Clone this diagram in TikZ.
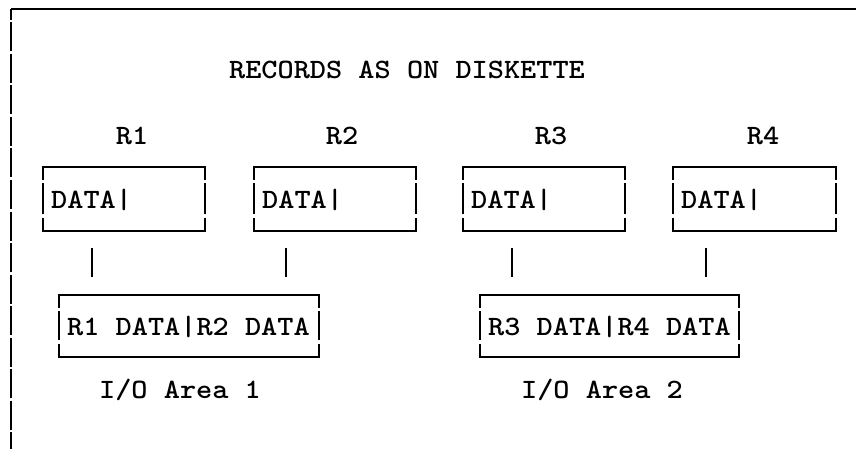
\documentclass[tikz,border=0pt]{standalone}
\usepackage{graphicx}
\usetikzlibrary{calc}

% typewriter text: Latin Modern Mono, widened to a 16.1pt pitch
\newcommand\tw[1]{\scalebox{1.1}[1]{\fontsize{28}{28}\selectfont\ttfamily\bfseries #1}}

\tikzset{
  ln/.style={line width=1.4pt, line cap=butt},
  frameln/.style={line width=1.6pt},
  area/.style={draw=none, inner sep=0pt, outer sep=0pt, minimum height=#1},
  lbl/.style={inner sep=0pt, anchor=base},
  txt/.style={inner sep=0pt, anchor=base west},
}

% box outline built from typewriter box pieces: corner ticks and broken sides
\newcommand\brokenbox[1]{%
  \draw[ln] ($(#1.north west)+(0,13)$) -- (#1.north west) -- (#1.north east) -- ($(#1.north east)+(0,13)$);
  \draw[ln] ($(#1.south west)+(0,-13)$) -- (#1.south west) -- (#1.south east) -- ($(#1.south east)+(0,-13)$);
  \draw[ln] ($(#1.north west)+(0,16)$) -- ($(#1.south west)+(0,-17)$);
  \draw[ln] ($(#1.north east)+(0,16)$) -- ($(#1.south east)+(0,-17)$);
}

\begin{document}
\begin{tikzpicture}[x=1pt, y=-1pt]
\useasboundingbox (0,0) rectangle (856,449);

% page frame
\draw[frameln] (11,9) -- (856,9);
\draw[frameln, dash pattern=on 29pt off 2.5pt, dash phase=18pt] (11,9) -- (11,449);

% title and record labels
\node[lbl] (title) at (407,79) {\tw{RECORDS AS ON DISKETTE}};
\node[lbl] (r1) at (132,145) {\tw{R1}};
\node[lbl] (r2) at (342,145) {\tw{R2}};
\node[lbl] (r3) at (551,145) {\tw{R3}};
\node[lbl] (r4) at (763,145) {\tw{R4}};

% record boxes
\node[area=64pt, minimum width=162pt] (d1) at (124,199) {};
\node[area=64pt, minimum width=162pt] (d2) at (335,199) {};
\node[area=64pt, minimum width=162pt] (d3) at (544,199) {};
\node[area=64pt, minimum width=163pt] (d4) at (754.5,199) {};
\brokenbox{d1}
\brokenbox{d2}
\brokenbox{d3}
\brokenbox{d4}
\node[txt] (t1) at (51,208) {\tw{DATA|}};
\node[txt] (t2) at (262,208) {\tw{DATA|}};
\node[txt] (t3) at (471,208) {\tw{DATA|}};
\node[txt] (t4) at (681,208) {\tw{DATA|}};

% I/O area boxes
\node[area=62pt, minimum width=260pt] (a1) at (189,326) {};
\node[area=62pt, minimum width=259pt] (a2) at (609.5,326) {};
\brokenbox{a1}
\brokenbox{a2}
\node[txt] (u1) at (67,335) {\tw{R1 DATA|R2 DATA}};
\node[txt] (u2) at (488,335) {\tw{R3 DATA|R4 DATA}};

\node[lbl] (io1) at (180,398) {\tw{I/O Area 1}};
\node[lbl] (io2) at (602,398) {\tw{I/O Area 2}};

% short links from records to I/O areas
\coordinate (k1a) at (92,248);  \coordinate (k1b) at (92,277);
\coordinate (k2a) at (286,248); \coordinate (k2b) at (286,277);
\coordinate (k3a) at (512,248); \coordinate (k3b) at (512,277);
\coordinate (k4a) at (706,248); \coordinate (k4b) at (706,277);
\draw[ln] (k1a) -- (k1b);
\draw[ln] (k2a) -- (k2b);
\draw[ln] (k3a) -- (k3b);
\draw[ln] (k4a) -- (k4b);
\end{tikzpicture}
\end{document}
